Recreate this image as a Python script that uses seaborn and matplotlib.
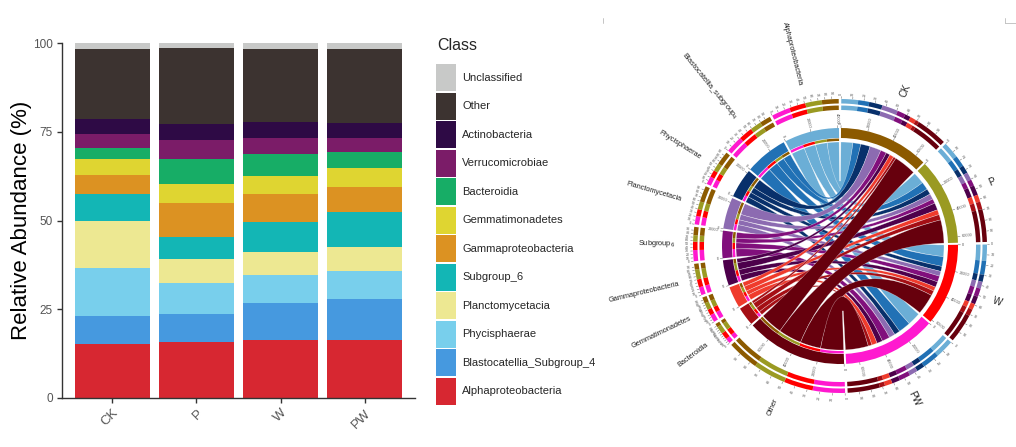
import numpy as np
import pandas as pd
import matplotlib
matplotlib.use("Agg")
import matplotlib.pyplot as plt
from matplotlib.patches import Wedge, PathPatch, Patch
from matplotlib.path import Path
from matplotlib.lines import Line2D
import seaborn as sns

sns.set_theme(style="ticks")
plt.rcParams["font.family"] = ["Liberation Sans", "DejaVu Sans"]

# --- stacked bar data: relative abundance (%), listed top -> bottom of the stack ---
groups = ["CK", "P", "W", "PW"]
classes = ["Unclassified", "Other", "Actinobacteria", "Verrucomicrobiae", "Bacteroidia",
           "Gemmatimonadetes", "Gammaproteobacteria", "Subgroup_6", "Planctomycetacia",
           "Phycisphaerae", "Blastocatellia_Subgroup_4", "Alphaproteobacteria"]
class_colors = ["#c8c9c8", "#3c3330", "#2e0a45", "#7b1c68", "#17ad66", "#dfd531",
                "#dc9222", "#13b6b5", "#ede892", "#78cfec", "#4699df", "#d72731"]
ab_CK = [1.7, 19.8, 4.2, 3.8, 3.1, 4.6, 5.2, 7.7, 13.3, 13.6, 7.7, 15.3]
ab_P = [1.3, 21.5, 4.4, 5.5, 6.9, 5.6, 9.5, 6.2, 6.8, 8.5, 8.1, 15.7]
ab_W = [1.7, 20.6, 4.6, 4.3, 6.4, 4.9, 7.9, 8.6, 6.3, 7.9, 10.6, 16.2]
ab_PW = [1.8, 20.8, 4.3, 3.9, 4.3, 5.5, 7.1, 9.9, 6.7, 7.9, 11.5, 16.3]

# --- chord diagram data: reads per sample and class ---
chord_taxa = ["Alphaproteobacteria", "Blastocatellia_subgroup$_4$", "Phycisphaerae",
              "Planctomycetacia", "Subgroup$_6$", "Gammaproteobacteria",
              "Gemmatimonadetes", "Bacteroidia", "Other"]
reads_CK = [10100, 6650, 8050, 9600, 4950, 3450, 3650, 2150, 18900]
reads_P = [9900, 6700, 4800, 4700, 3850, 6000, 4250, 4600, 19700]
reads_W = [9800, 8350, 4250, 4150, 5050, 4750, 3550, 4100, 17500]
reads_PW = [11200, 10300, 4850, 5050, 6650, 4850, 4550, 3150, 19400]
taxa_colors = ["#6baed6", "#2171b5", "#08306b", "#8c6bb1", "#810f7c", "#4d004b",
               "#ef3b2c", "#a50f15", "#67000d"]
group_colors = ["#8c5a00", "#9a9a22", "#ff0000", "#ff19cf"]

W, H = 1016, 447
fig = plt.figure(figsize=(W / 100, H / 100), dpi=100)

# ================= stacked bars =================
rows = []
for g, vals in zip(groups, [ab_CK, ab_P, ab_W, ab_PW]):
    for c, v in zip(classes, vals):
        rows.append((g, c, v))
df = pd.DataFrame(rows, columns=["group", "Class", "abundance"])
df["group"] = pd.Categorical(df["group"], categories=groups, ordered=True)

ax = fig.add_axes([62 / W, 1 - 398 / H, (415 - 62) / W, (398 - 43) / H])
sns.histplot(data=df, x="group", weights="abundance", hue="Class", hue_order=classes,
             multiple="stack", discrete=True, shrink=0.9, palette=class_colors,
             alpha=1, linewidth=0, legend=False, ax=ax)
ax.set_xlim(-0.6, 3.6)
ax.set_ylim(0, 100)
ax.set_xticks(range(len(groups)))
ax.set_xticklabels(groups, rotation=45, ha="right", va="top", rotation_mode="anchor",
                   fontsize=9.5, color="#555555")
ax.set_yticks([0, 25, 50, 75, 100])
ax.set_yticklabels(["0", "25", "50", "75", "100"], fontsize=8.5, color="#555555")
ax.tick_params(length=3.5, width=1, color="#333333", pad=3)
ax.set_xlabel("")
ax.set_ylabel("Relative Abundance (%)", fontsize=16, color="black", labelpad=1)
sns.despine(ax=ax)
for s in ["left", "bottom"]:
    ax.spines[s].set_color("#333333")
    ax.spines[s].set_linewidth(1)

# legend: title as text, keys as a borderless legend
fig.text(437 / W, 1 - 46 / H, "Class", fontsize=11.5, va="center", ha="left")
handles = [Patch(facecolor=c, edgecolor="none") for c in class_colors]
fig.legend(handles, classes, loc="upper left", bbox_to_anchor=(436 / W, 1 - 64 / H),
           frameon=False, fontsize=8, handlelength=1.8, handleheight=3.37,
           labelspacing=0.13, handletextpad=0.55, borderaxespad=0, borderpad=0)

# ================= chord diagram =================
ax2 = fig.add_axes([600 / W, 0, 416 / W, 1])
ax2.set_xlim(-240, 176)
ax2.set_ylim(-(H - 246), 246)
ax2.axis("off")

mat = np.array([reads_CK, reads_P, reads_W, reads_PW], dtype=float)
names = groups + chord_taxa[::-1]
sizes = list(mat.sum(1)) + list(mat.sum(0)[::-1])
colors = group_colors + taxa_colors[::-1]
gap = 1.0
dpd = (360 - gap * len(names)) / sum(sizes)
start = {}
cur = 90 - gap / 2
for n, s in zip(names, sizes):
    start[n] = cur
    cur -= s * dpd + gap


def pt(r, a):
    t = np.deg2rad(a)
    return r * np.cos(t), r * np.sin(t)


def arc(r, a1, a2, n=40):
    t = np.deg2rad(np.linspace(a1, a2, n))
    return np.column_stack([r * np.cos(t), r * np.sin(t)])


def radial_text(r, a, txt, size, color):
    a = (a + 360) % 360
    x, y = pt(r, a)
    if 90 < a < 270:
        rot, ha = a - 180, "right"
    else:
        rot, ha = a, "left"
    ax2.text(x, y, txt, fontsize=size, color=color, rotation=rot, ha=ha, va="center",
             rotation_mode="anchor")


# inner track, axis ticks and labels
for n, s, c in zip(names, sizes, colors):
    a0 = start[n]
    a1 = a0 - s * dpd
    ax2.add_patch(Wedge((0, 0), 118, a1, a0, width=10, fc=c, ec="none"))
    for v in range(0, int(s) + 1, 20000):
        a = a0 - v * dpd
        ax2.plot(*zip(pt(118, a), pt(120.5, a)), color="#777777", lw=0.4)
        radial_text(122, a, str(v), 2.8, "#555555")

# outer double ring showing composition in percent
r_link = 104
ntax = len(chord_taxa)
tgt_order = [3, 2, 1, 0]
for i, g in enumerate(groups):
    a = start[g]
    for j in range(ntax):
        w = mat[i, j] * dpd
        for ro in (140.5, 147):
            ax2.add_patch(Wedge((0, 0), ro, a - w, a, width=4.5, fc=taxa_colors[j], ec="none"))
        a -= w
for j, t in enumerate(chord_taxa):
    a = start[t]
    for i in tgt_order:
        w = mat[i, j] * dpd
        for ro in (140.5, 147):
            ax2.add_patch(Wedge((0, 0), ro, a - w, a, width=4.5, fc=group_colors[i], ec="none"))
        ax2.add_patch(Wedge((0, 0), 107.5, a - w, a, width=2.5, fc=group_colors[i], ec="none"))
        a -= w
for n, s in zip(names, sizes):
    for k in range(10):
        a = start[n] - k / 10 * s * dpd
        ax2.plot(*zip(pt(147.5, a), pt(149.5, a)), color="#777777", lw=0.4)
        radial_text(151, a, str(k * 10), 2.6, "#555555")

# links
src_off = np.cumsum(mat, axis=1) - mat
tgt_off = np.zeros_like(mat)
acc = np.zeros(ntax)
for i in tgt_order:
    tgt_off[i] = acc
    acc = acc + mat[i]

for j, t in enumerate(chord_taxa):
    for i, g in enumerate(groups):
        v = mat[i, j]
        s1 = start[g] - src_off[i, j] * dpd
        s2 = s1 - v * dpd
        t1 = start[t] - tgt_off[i, j] * dpd
        t2 = t1 - v * dpd
        a = arc(r_link, s1, s2)
        b = arc(r_link, t1, t2)
        verts = list(a) + [(0, 0), pt(r_link, t1)] + list(b[1:]) + [(0, 0), pt(r_link, s1)]
        codes = ([Path.MOVETO] + [Path.LINETO] * (len(a) - 1) + [Path.CURVE3] * 2 +
                 [Path.LINETO] * (len(b) - 1) + [Path.CURVE3] * 2)
        ax2.add_patch(PathPatch(Path(verts, codes), fc=taxa_colors[j],
                                ec=(1, 1, 1, 0.5), lw=0.35))

# sector labels
for n, s in zip(names, sizes):
    mid = start[n] - s * dpd / 2
    if n in groups:
        radial_text(162, mid, n, 7, "#222222")
    else:
        radial_text(165, mid, n, 5.3, "#222222")

# small crop marks at the top of the pasted panel
for xs, ys in [((603, 603), (18, 23)), ((1005, 1005), (18, 23)), ((1005, 1016), (23, 23))]:
    fig.add_artist(Line2D([x / W for x in xs], [1 - y / H for y in ys], color="#bbbbbb", lw=0.6))

fig.savefig("out.png", dpi=100)
